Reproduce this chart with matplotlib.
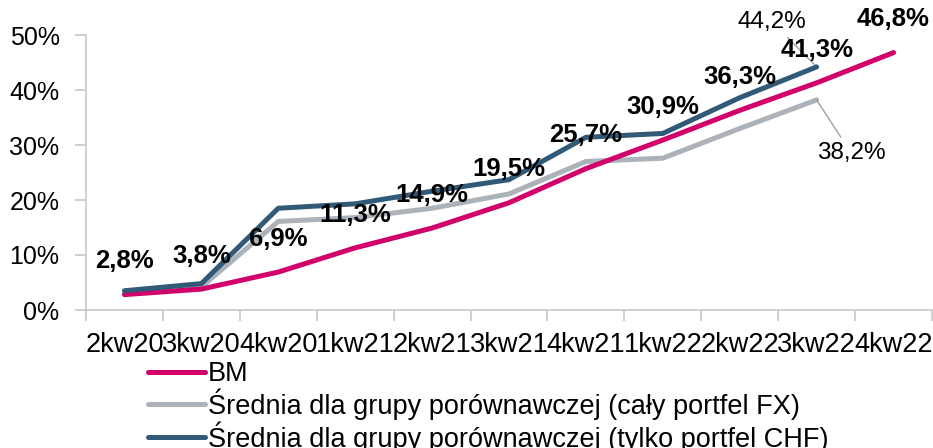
import numpy as np
import matplotlib
matplotlib.use("Agg")
from matplotlib import pyplot as plt
from matplotlib.ticker import FixedLocator, FuncFormatter

plt.rcParams['font.family'] = ['Liberation Sans', 'DejaVu Sans']

# data
quarters = ['2kw20', '3kw20', '4kw20', '1kw21', '2kw21', '3kw21',
            '4kw21', '1kw22', '2kw22', '3kw22', '4kw22']
bm = [2.8, 3.8, 6.9, 11.3, 14.9, 19.5, 25.7, 30.9, 36.3, 41.3, 46.8]
peer_fx = [3.2, 4.2, 16.1, 16.8, 18.5, 21.1, 27.0, 27.6, 33.0, 38.2]
peer_chf = [3.5, 4.8, 18.5, 19.3, 21.6, 23.7, 31.4, 32.1, 38.6, 44.2]
legend_names = ['BM',
                'Średnia dla grupy porównawczej (cały portfel FX)',
                'Średnia dla grupy porównawczej (tylko portfel CHF)']

c_bm = '#d1006a'
c_fx = '#abb2b9'
c_chf = '#315a78'
axis_col = '#c8c8c8'

fig = plt.figure(figsize=(9.33, 4.48), dpi=100)
ax = fig.add_axes([86/933, 138/448, 846/933, 275/448])

x = np.arange(len(quarters))
l2, = ax.plot(x[:len(peer_fx)], peer_fx, color=c_fx, lw=3.6, solid_capstyle='round', zorder=2)
l1, = ax.plot(x, bm, color=c_bm, lw=3.6, solid_capstyle='round', zorder=3)
l3, = ax.plot(x[:len(peer_chf)], peer_chf, color=c_chf, lw=3.6, solid_capstyle='round', zorder=4)

# bold labels above BM points
for xi, v in zip(x, bm):
    ax.annotate(f"{v:.1f}%".replace('.', ','), (xi, v), xytext=(0, 24),
                textcoords='offset points', ha='center', va='center',
                fontsize=18.5, fontweight='bold', color='black',
                annotation_clip=False, zorder=6)

# end labels of peer series, with leader lines
ax.annotate(f"{peer_fx[-1]:.1f}%".replace('.', ','), (len(peer_fx) - 1, peer_fx[-1]),
            xytext=(9.45, 28.5), ha='center', va='center', fontsize=17.5,
            arrowprops=dict(arrowstyle='-', color='#a0a0a0', lw=1, shrinkB=0),
            annotation_clip=False)
ax.annotate(f"{peer_chf[-1]:.1f}%".replace('.', ','), (len(peer_chf) - 1, peer_chf[-1]),
            xytext=(8.42, 52.4), ha='center', va='center', fontsize=17.5,
            arrowprops=dict(arrowstyle='-', color='#a0a0a0', lw=1, shrinkB=0),
            annotation_clip=False)

ax.set_xlim(-0.5, len(quarters) - 0.5)
ax.set_ylim(0, 50)
ax.set_yticks(np.arange(0, 51, 10))
ax.yaxis.set_major_formatter(FuncFormatter(lambda v, p: f"{v:.0f}%"))

# tick marks between categories, labels at the centres
ax.xaxis.set_major_locator(FixedLocator(np.arange(-0.5, len(quarters), 1.0)))
ax.xaxis.set_minor_locator(FixedLocator(x))
ax.set_xticklabels([], minor=False)
ax.set_xticklabels(quarters, minor=True)
ax.tick_params(axis='x', which='major', length=8, color=axis_col, width=1.2)
ax.tick_params(axis='x', which='minor', length=0, pad=16, labelsize=19.5)
ax.tick_params(axis='y', length=8, color=axis_col, width=1.2, pad=11, labelsize=18)

for s in ['top', 'right']:
    ax.spines[s].set_visible(False)
for s in ['left', 'bottom']:
    ax.spines[s].set_color(axis_col)
    ax.spines[s].set_linewidth(1.2)

fig.legend([l1, l2, l3], legend_names, loc='upper left',
           bbox_to_anchor=(148/933, 1 - 361/448), frameon=False, fontsize=19.5,
           handlelength=2.1, handletextpad=0.12, labelspacing=0.05, borderpad=0,
           borderaxespad=0)

fig.savefig('out.png', dpi=100)
